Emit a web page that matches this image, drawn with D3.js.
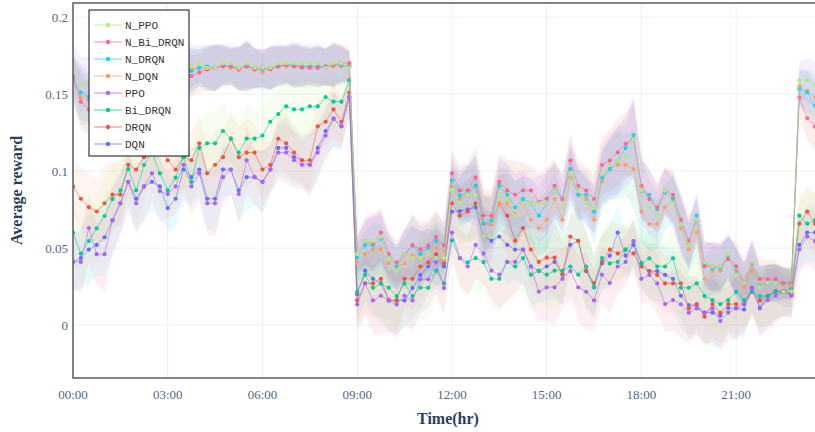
<!DOCTYPE html>
<html>
<head>
<meta charset="utf-8">
<script src="https://cdn.jsdelivr.net/npm/d3@7"></script>
<style>
  html, body { margin: 0; padding: 0; background: #fff; overflow: hidden; }
  svg { display: block; }
</style>
</head>
<body>
<div id="chart"></div>
<script>
// ---- data (one point every 15 minutes, 00:00 .. 23:30) ----------------------
const timeTicks = [0, 3, 6, 9, 12, 15, 18, 21];
const tickLabels = ['00:00', '03:00', '06:00', '09:00', '12:00', '15:00', '18:00', '21:00'];
const yTicks = [0, 0.05, 0.1, 0.15, 0.2];
const yTickLabels = ['0', '0.05', '0.1', '0.15', '0.2'];

const DQN = [0.041,0.0435,0.049,0.052,0.057,0.068,0.079,0.093,0.082,0.090,0.093,0.090,0.076,0.082,0.101,0.096,
  0.101,0.082,0.082,0.101,0.101,0.0875,0.096,0.096,0.093,0.101,0.115,0.115,0.109,0.107,0.104,0.115,0.126,0.134,0.129,0.148,
  0.020,0.0353,0.030,0.027,0.016,0.016,0.016,0.024,0.0325,0.038,0.0435,0.038,
  0.0736,0.074,0.075,0.0764,0.0574,0.0547,0.0574,0.052,0.049,0.049,0.038,0.035,0.038,0.041,0.033,0.052,0.0547,0.035,0.0245,0.040,0.045,0.060,0.045,0.052,
  0.040,0.035,0.035,0.0325,0.030,0.019,0.013,0.013,0.008,0.008,0.006,0.011,0.011,0.010,0.0242,0.011,0.019,0.0216,0.0216,0.020,
  0.052,0.060,0.060];
const DRQN = [0.090,0.082,0.0765,0.0737,0.079,0.0847,0.0847,0.104,0.101,0.109,0.113,0.116,0.107,0.101,0.109,0.107,
  0.118,0.0985,0.104,0.109,0.121,0.109,0.112,0.112,0.101,0.104,0.121,0.118,0.112,0.107,0.107,0.129,0.132,0.140,0.132,0.151,
  0.016,0.027,0.027,0.030,0.016,0.016,0.030,0.030,0.038,0.0407,0.046,0.040,
  0.079,0.071,0.0737,0.079,0.0656,0.0656,0.079,0.071,0.0547,0.063,0.049,0.041,0.0437,0.0437,0.0327,0.0574,0.0547,0.0353,0.0273,0.041,0.049,0.0465,0.049,0.0465,
  0.038,0.035,0.0325,0.027,0.027,0.027,0.0108,0.0136,0.0054,0.0136,0.008,0.0136,0.0136,0.0136,0.0216,0.016,0.019,0.022,0.022,0.021,
  0.0658,0.0736,0.0658];
const Bi_DRQN = [0.060,0.0463,0.0545,0.0628,0.0708,0.0818,0.0874,0.1013,0.0874,0.1039,0.112,0.0985,0.0874,0.0957,0.109,0.093,
  0.115,0.118,0.118,0.126,0.121,0.112,0.121,0.121,0.123,0.132,0.137,0.142,0.140,0.140,0.142,0.142,0.148,0.145,0.145,0.159,
  0.0214,0.0325,0.0242,0.027,0.0242,0.0188,0.027,0.0188,0.0242,0.0242,0.0353,0.027,
  0.055,0.0435,0.0407,0.0435,0.0409,0.030,0.030,0.041,0.038,0.0435,0.0327,0.0353,0.0327,0.0353,0.0353,0.038,0.0327,0.038,0.0245,0.0435,0.040,0.041,0.049,0.0545,
  0.040,0.0433,0.038,0.038,0.0433,0.0242,0.0242,0.027,0.0188,0.0162,0.0136,0.0162,0.0216,0.0162,0.0216,0.0188,0.0188,0.0216,0.0216,0.024,
  0.071,0.0658,0.068];
const PPO = [0.041,0.041,0.063,0.046,0.046,0.068,0.079,0.093,0.079,0.090,0.0985,0.087,0.085,0.090,0.104,0.090,
  0.0985,0.079,0.079,0.096,0.101,0.085,0.107,0.096,0.093,0.101,0.112,0.112,0.107,0.104,0.104,0.112,0.123,0.134,0.129,0.148,
  0.0134,0.027,0.016,0.019,0.016,0.0134,0.019,0.016,0.0297,0.0297,0.0407,0.024,
  0.060,0.0435,0.038,0.052,0.0465,0.0353,0.0327,0.041,0.041,0.049,0.038,0.0216,0.0245,0.0245,0.030,0.035,0.0245,0.0216,0.016,0.0327,0.0273,0.038,0.041,0.0545,
  0.030,0.0325,0.027,0.0136,0.0162,0.0134,0.008,0.0108,0.008,0.0108,0.0026,0.008,0.0108,0.0134,0.0238,0.0108,0.0162,0.019,0.0216,0.019,
  0.049,0.0574,0.0545];
const N_DQN = [0.158,0.148,0.146,0.150,0.154,0.157,0.159,0.161,0.163,0.162,0.164,0.165,0.164,0.165,0.166,0.166,
  0.167,0.166,0.167,0.168,0.167,0.166,0.168,0.167,0.164,0.167,0.168,0.168,0.168,0.168,0.168,0.168,0.168,0.168,0.168,0.168,
  0.0407,0.0461,0.0491,0.0491,0.040,0.0379,0.040,0.045,0.043,0.046,0.050,0.048,
  0.0898,0.0816,0.0848,0.0905,0.0656,0.066,0.079,0.079,0.072,0.079,0.0684,0.063,0.0684,0.0818,0.0684,0.0957,0.0846,0.0818,0.0684,0.093,0.1013,0.1039,0.1039,0.1013,
  0.0736,0.0656,0.0656,0.0764,0.0818,0.0628,0.049,0.0602,0.0299,0.0353,0.0353,0.043,0.035,0.0245,0.0353,0.026,0.0273,0.0273,0.026,0.026,
  0.155,0.152,0.1478];
const N_DRQN = [0.160,0.151,0.148,0.152,0.156,0.158,0.160,0.162,0.164,0.163,0.165,0.166,0.165,0.166,0.167,0.165,
  0.167,0.168,0.167,0.169,0.168,0.167,0.168,0.167,0.166,0.167,0.168,0.169,0.169,0.168,0.168,0.168,0.167,0.169,0.169,0.168,
  0.044,0.052,0.052,0.056,0.044,0.038,0.046,0.0517,0.046,0.050,0.0545,0.0517,
  0.094,0.084,0.086,0.0903,0.066,0.068,0.0903,0.0846,0.0764,0.0818,0.079,0.071,0.079,0.0874,0.0818,0.1013,0.0846,0.0846,0.0736,0.0957,0.1013,0.1067,0.1149,0.1234,
  0.087,0.0846,0.075,0.086,0.082,0.066,0.052,0.071,0.040,0.037,0.037,0.045,0.034,0.027,0.040,0.025,0.027,0.0273,0.0273,0.0273,
  0.1532,0.151,0.1424];
const N_Bi_DRQN = [0.1617,0.145,0.140,0.150,0.155,0.160,0.158,0.162,0.160,0.163,0.165,0.162,0.164,0.163,0.165,0.1617,
  0.164,0.166,0.167,0.168,0.168,0.166,0.168,0.166,0.167,0.166,0.168,0.169,0.168,0.167,0.167,0.167,0.168,0.169,0.170,0.170,
  0.046,0.0545,0.053,0.060,0.0461,0.0407,0.0461,0.0517,0.0491,0.0517,0.0571,0.0517,
  0.0985,0.0874,0.0874,0.0957,0.071,0.071,0.093,0.0874,0.0846,0.0874,0.0874,0.080,0.082,0.0903,0.0818,0.1067,0.0903,0.0874,0.0818,0.1039,0.1067,0.1121,0.1177,0.1206,
  0.0903,0.0818,0.0764,0.0874,0.0846,0.0684,0.0547,0.068,0.0381,0.0381,0.0381,0.043,0.0381,0.0273,0.040,0.030,0.0299,0.0299,0.0273,0.0273,
  0.1478,0.1342,0.1288];
const N_PPO = [0.1677,0.156,0.158,0.160,0.163,0.165,0.162,0.166,0.168,0.165,0.167,0.166,0.168,0.165,0.167,0.168,
  0.170,0.167,0.167,0.170,0.170,0.167,0.170,0.167,0.167,0.167,0.170,0.170,0.170,0.170,0.170,0.170,0.167,0.170,0.170,0.167,
  0.0461,0.0545,0.0545,0.0571,0.0435,0.0353,0.0461,0.0435,0.0435,0.0461,0.0435,0.0435,
  0.0877,0.0794,0.0848,0.0846,0.0574,0.0574,0.0846,0.0818,0.071,0.079,0.079,0.079,0.079,0.0874,0.0764,0.0985,0.0874,0.079,0.076,0.0985,0.1039,0.1067,0.1093,0.1206,
  0.0874,0.0764,0.071,0.0874,0.079,0.0655,0.0519,0.0684,0.0409,0.0381,0.0381,0.0461,0.0327,0.0273,0.0409,0.0245,0.0273,0.0273,0.0216,0.0216,
  0.159,0.159,0.156];

// half width of the shaded bands
const spreadBase = [0.018,0.02,0.022,0.02,0.025,0.022,0.02,0.018,0.02,0.022,0.018,0.02,0.016,0.018,0.02,0.018,
  0.018,0.02,0.022,0.018,0.016,0.02,0.022,0.018,0.02,0.016,0.018,0.02,0.018,0.016,0.02,0.018,0.016,0.018,0.015,0.012,
  0.018,0.02,0.022,0.025,0.02,0.022,0.018,0.02,0.022,0.018,0.02,0.018,
  0.015,0.018,0.02,0.022,0.02,0.018,0.022,0.025,0.02,0.022,0.025,0.02,0.022,0.025,0.02,0.018,0.022,0.025,0.02,0.018,0.02,0.018,0.016,0.015,
  0.016,0.018,0.02,0.018,0.02,0.022,0.02,0.018,0.02,0.022,0.02,0.018,0.02,0.018,0.016,0.018,0.02,0.018,0.016,0.015,
  0.015,0.018,0.02];
const spreadN = [0.015,0.018,0.016,0.014,0.015,0.016,0.014,0.015,0.016,0.015,0.014,0.015,0.016,0.014,0.015,0.014,
  0.012,0.014,0.015,0.013,0.012,0.014,0.016,0.013,0.012,0.014,0.013,0.012,0.014,0.013,0.012,0.013,0.012,0.014,0.012,0.01,
  0.012,0.015,0.018,0.016,0.015,0.014,0.016,0.02,0.018,0.016,0.018,0.015,
  0.015,0.016,0.018,0.02,0.018,0.016,0.018,0.02,0.022,0.018,0.016,0.018,0.02,0.018,0.016,0.018,0.016,0.015,0.016,0.018,0.02,0.022,0.02,0.025,
  0.02,0.018,0.016,0.015,0.016,0.018,0.016,0.015,0.014,0.016,0.015,0.014,0.016,0.014,0.015,0.013,0.012,0.012,0.01,0.01,
  0.012,0.014,0.015];

// trace order as drawn (the legend lists them in reverse); bands take their own tint
const series = [
  { name: 'DQN', values: DQN, color: '#636efa', band: '#19d3f3', spread: spreadBase },
  { name: 'DRQN', values: DRQN, color: '#EF553B', band: '#FFA15A', spread: spreadBase },
  { name: 'Bi_DRQN', values: Bi_DRQN, color: '#00cc96', band: '#B6E880', spread: spreadBase },
  { name: 'PPO', values: PPO, color: '#ab63fa', band: '#FF6692', spread: spreadBase },
  { name: 'N_DQN', values: N_DQN, color: '#FFA15A', band: '#00cc96', spread: spreadN },
  { name: 'N_DRQN', values: N_DRQN, color: '#19d3f3', band: '#636efa', spread: spreadN },
  { name: 'N_Bi_DRQN', values: N_Bi_DRQN, color: '#FF6692', band: '#EF553B', spread: spreadN },
  { name: 'N_PPO', values: N_PPO, color: '#B6E880', band: '#ab63fa', spread: spreadN }
];
const hours = d3.range(N_PPO.length).map(i => i * 0.25);

// ---- layout ------------------------------------------------------------------
const width = 815, height = 432;
const margin = { left: 73, top: 3, bottom: 54 };
const plotW = 750;
const plotH = height - margin.top - margin.bottom;
const serif = "'Liberation Serif', 'Times New Roman', serif";

const svg = d3.select('#chart').append('svg')
  .attr('width', width)
  .attr('height', height);

const x = d3.scaleLinear().domain([0, 23.75]).range([margin.left, margin.left + plotW]);
const y = d3.scaleLinear().domain([-0.0344, 0.2091]).range([margin.top + plotH, margin.top]);

svg.append('defs').append('clipPath').attr('id', 'plot-clip')
  .append('rect')
  .attr('x', margin.left).attr('y', margin.top)
  .attr('width', plotW).attr('height', plotH);

// grid -------------------------------------------------------------------------
const grid = svg.append('g');
grid.selectAll('line.vg').data(timeTicks).enter().append('line')
  .attr('x1', d => x(d)).attr('x2', d => x(d))
  .attr('y1', margin.top).attr('y2', margin.top + plotH)
  .attr('stroke', '#ebf0f8').attr('stroke-width', 1);
grid.selectAll('line.hg').data(yTicks).enter().append('line')
  .attr('x1', margin.left).attr('x2', margin.left + plotW)
  .attr('y1', d => y(d)).attr('y2', d => y(d))
  .attr('stroke', '#ebf0f8').attr('stroke-width', 1);

// bands, lines, markers --------------------------------------------------------
const plot = svg.append('g').attr('clip-path', 'url(#plot-clip)');
const area = d3.area()
  .x((d, i) => x(hours[i]))
  .y0(d => y(d.v - d.s))
  .y1(d => y(d.v + d.s));
const line = d3.line()
  .x((d, i) => x(hours[i]))
  .y(d => y(d));

series.forEach(s => {
  const pts = s.values.map((v, i) => ({ v: v, s: s.spread[i] }));
  plot.append('path')
    .attr('d', area(pts))
    .attr('fill', s.band)
    .attr('fill-opacity', 0.1)
    .attr('stroke', 'none');
});
series.forEach(s => {
  const g = plot.append('g');
  g.append('path')
    .attr('d', line(s.values))
    .attr('fill', 'none')
    .attr('stroke', s.color)
    .attr('stroke-opacity', 0.55)
    .attr('stroke-width', 1);
  g.selectAll('circle').data(s.values).enter().append('circle')
    .attr('cx', (d, i) => x(hours[i]))
    .attr('cy', d => y(d))
    .attr('r', 2.1)
    .attr('fill', s.color);
});

// frame ------------------------------------------------------------------------
svg.append('rect')
  .attr('x', margin.left).attr('y', margin.top)
  .attr('width', plotW).attr('height', plotH)
  .attr('fill', 'none')
  .attr('stroke', '#666')
  .attr('stroke-width', 1.6);

// tick labels ------------------------------------------------------------------
svg.append('g').selectAll('text').data(timeTicks).enter().append('text')
  .attr('x', d => x(d))
  .attr('y', 399)
  .attr('text-anchor', 'middle')
  .attr('font-family', serif)
  .attr('font-size', 13)
  .attr('fill', '#506784')
  .text((d, i) => tickLabels[i]);
svg.append('g').selectAll('text').data(yTicks).enter().append('text')
  .attr('x', 68)
  .attr('y', d => y(d) + 4.5)
  .attr('text-anchor', 'end')
  .attr('font-family', serif)
  .attr('font-size', 13)
  .attr('fill', '#506784')
  .text((d, i) => yTickLabels[i]);

// axis titles -------------------------------------------------------------------
svg.append('text')
  .attr('x', 448).attr('y', 424)
  .attr('text-anchor', 'middle')
  .attr('font-family', serif)
  .attr('font-weight', 'bold')
  .attr('font-size', 16)
  .attr('fill', '#2a3f5f')
  .text('Time(hr)');
svg.append('text')
  .attr('transform', 'translate(22,' + (margin.top + plotH / 2) + ') rotate(-90)')
  .attr('text-anchor', 'middle')
  .attr('font-family', serif)
  .attr('font-weight', 'bold')
  .attr('font-size', 16)
  .attr('fill', '#2a3f5f')
  .text('Average reward');

// legend -----------------------------------------------------------------------
const legend = svg.append('g').attr('transform', 'translate(89,10)');
legend.append('rect')
  .attr('width', 100).attr('height', 146)
  .attr('fill', '#fff')
  .attr('stroke', '#111')
  .attr('stroke-width', 1);
const items = legend.selectAll('g.item').data(series.slice().reverse()).enter().append('g')
  .attr('transform', (d, i) => 'translate(0,' + (15 + i * 17) + ')');
items.append('line')
  .attr('x1', 5).attr('x2', 33)
  .attr('stroke', d => d.color)
  .attr('stroke-opacity', 0.5)
  .attr('stroke-width', 1.5);
items.append('circle')
  .attr('cx', 19).attr('r', 2.2)
  .attr('fill', d => d.color);
items.append('text')
  .attr('x', 36).attr('y', 4)
  .attr('font-family', "'Courier New', 'Liberation Mono', monospace")
  .attr('font-size', 11)
  .attr('fill', '#333')
  .text(d => d.name);
</script>
</body>
</html>
